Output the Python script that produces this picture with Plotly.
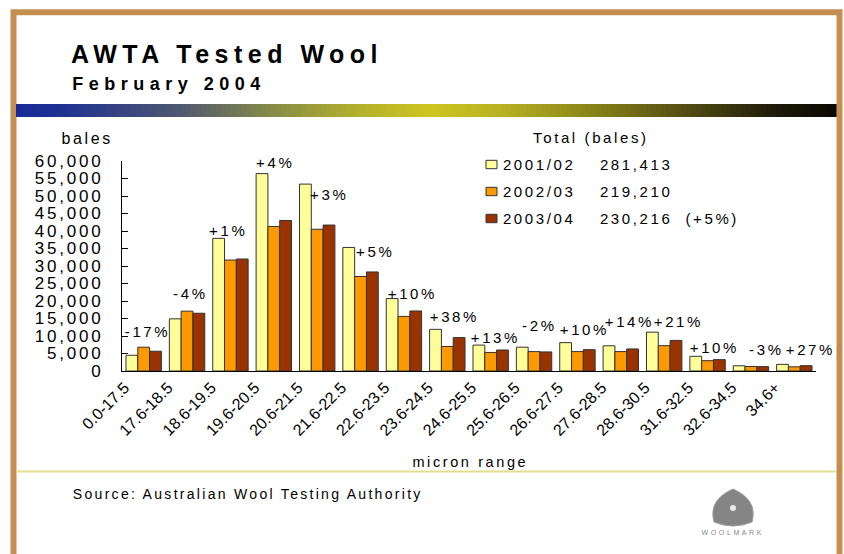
import plotly.graph_objects as go

# ---------------- data ----------------
categories = ["0.0-17.5", "17.6-18.5", "18.6-19.5", "19.6-20.5", "20.6-21.5",
              "21.6-22.5", "22.6-23.5", "23.6-24.5", "24.6-25.5", "25.6-26.5",
              "26.6-27.5", "27.6-28.5", "28.6-30.5", "31.6-32.5", "32.6-34.5", "34.6+"]
bales_2001_02 = [4500, 14900, 37900, 56400, 53400, 35300, 20700, 11900,
                 7400, 6800, 8100, 7200, 11100, 4200, 1500, 1900]
bales_2002_03 = [6800, 17100, 31700, 41300, 40500, 27000, 15600, 7000,
                 5300, 5550, 5550, 5550, 7250, 2950, 1290, 1200]
bales_2003_04 = [5650, 16500, 32000, 43000, 41700, 28300, 17150, 9550,
                 6000, 5450, 6100, 6300, 8750, 3250, 1250, 1520]
pct_change = ["-17%", "-4%", "+1%", "+4%", "+3%", "+5%", "+10%", "+38%",
              "+13%", "-2%", "+10%", "+14%", "+21%", "+10%", "-3%", "+27%"]
seasons = ["2001/02", "2002/03", "2003/04"]
season_totals = ["281,413", "219,210", "230,216"]
total_change = "(+5%)"

# ---------------- styling / layout helpers ----------------
colors = ["#FFFF99", "#FF9900", "#993300"]
FONT = "Liberation Sans, Arial, sans-serif"
W, H = 844, 554
L, R, T, B = 122, 816, 161, 371          # plot area in pixels


def px(x):
    return (x - L) / (R - L)


def py(y):
    return (B - y) / (B - T)


fig = go.Figure()
for name, vals, col in zip(seasons, [bales_2001_02, bales_2002_03, bales_2003_04], colors):
    fig.add_trace(go.Bar(
        x=categories, y=vals, name=name,
        marker=dict(color=col, line=dict(color="#333333", width=1)),
        hoverinfo="x+y+name",
    ))

annotations = []


def txt(text, x, y, size, bold=False, color="black"):
    annotations.append(dict(
        text=f"<b>{text}</b>" if bold else text,
        x=px(x), y=py(y), xref="paper", yref="paper",
        xanchor="center", yanchor="middle", showarrow=False,
        font=dict(family=FONT, size=size, color=color),
    ))


# titles (index 0 and 1 -> wider letter spacing)
txt("AWTA Tested Wool", 227, 54, 25, bold=True)
txt("February 2004", 169, 84, 18, bold=True)

# axis texts
txt("bales", 87, 138, 16)
txt("micron range", 470, 462, 14.5)
txt("Source: Australian Wool Testing Authority", 248, 494, 14)   # index 4

# legend block
txt("Total (bales)", 591, 137.5, 15)
legend_rows_y = [164.5, 191.5, 218.5]
shapes = []
for i, (s, tot) in enumerate(zip(seasons, season_totals)):
    yy = legend_rows_y[i]
    shapes.append(dict(type="rect", xref="paper", yref="paper",
                       x0=px(486), x1=px(497), y0=py(yy - 4.2), y1=py(yy + 4.2),
                       fillcolor=colors[i], line=dict(color="#333333", width=1)))
    txt(s, 539, yy, 15)
    txt(tot, 636, yy, 15)
txt(total_change, 712, legend_rows_y[2], 15)

# percentage change labels (pixel centres)
pct_label_px = [(147, 331), (190, 293), (228, 230), (275, 162), (329, 194),
                (375, 251), (412, 293), (454, 316), (495, 337), (539, 325),
                (584, 329), (629, 321), (678, 321), (714, 347), (766, 349), (810, 349)]
for lab, (lx, ly) in zip(pct_change, pct_label_px):
    txt(lab, lx, ly, 15)

# Woolmark text
txt("WOOLMARK", 733, 532, 7, color="#888888")

# ---------------- decorations ----------------
# tan frame
shapes.append(dict(type="rect", xref="paper", yref="paper",
                   x0=px(13.5), x1=px(839.5), y0=py(12.3), y1=py(620),
                   line=dict(color="#C48E50", width=6), fillcolor="rgba(0,0,0,0)",
                   layer="above"))

# gradient band
stops = [(16, (24, 42, 152)), (60, (31, 48, 147)), (180, (79, 88, 112)),
         (270, (133, 138, 72)), (350, (176, 173, 46)), (430, (205, 197, 32)),
         (500, (184, 178, 36)), (590, (138, 132, 24)), (690, (80, 74, 20)),
         (780, (28, 24, 8)), (836, (10, 8, 4))]


def col_at(x):
    for (x0, c0), (x1, c1) in zip(stops[:-1], stops[1:]):
        if x0 <= x <= x1:
            t = (x - x0) / (x1 - x0)
            return "rgb(%d,%d,%d)" % tuple(round(a + (b - a) * t) for a, b in zip(c0, c1))
    return "rgb(10,8,4)"


n = 164
x_start, x_end = 16, 836
step = (x_end - x_start) / n
for k in range(n):
    a = x_start + k * step
    shapes.append(dict(type="rect", xref="paper", yref="paper",
                       x0=px(a), x1=px(a + step + 0.6), y0=py(117), y1=py(104),
                       fillcolor=col_at(a + step / 2), line=dict(width=0)))

# pale olive rule
shapes.append(dict(type="line", xref="paper", yref="paper",
                   x0=px(16), x1=px(836), y0=py(471.5), y1=py(471.5),
                   line=dict(color="#E2DE8C", width=2)))

# Woolmark logo approximation (rounded triangle)
shapes.append(dict(type="path", xref="paper", yref="paper",
                   path="M {a},{b} Q {c},{d} {e},{f} Q {g},{h} {i},{j} Q {k},{l} {a},{b} Z".format(
                       a=px(733), b=py(489), c=px(758), d=py(500), e=px(752), f=py(522),
                       g=px(733), h=py(530), i=px(714), j=py(522), k=px(708), l=py(500)),
                   fillcolor="#707070", line=dict(color="#8a8a8a", width=1), opacity=0.85))
shapes.append(dict(type="circle", xref="paper", yref="paper",
                   x0=px(730), x1=px(736), y0=py(511), y1=py(505),
                   fillcolor="#e8e8e8", line=dict(width=0)))

fig.update_layout(
    width=W, height=H,
    margin=dict(l=L, r=W - R, t=T, b=H - B, pad=0),
    paper_bgcolor="white", plot_bgcolor="white",
    barmode="group", bargap=0.184, bargroupgap=0,
    showlegend=False,
    font=dict(family=FONT, color="black"),
    annotations=annotations,
    shapes=shapes,
    xaxis=dict(
        showline=True, linecolor="black", linewidth=1.2,
        ticks="", tickangle=-45, tickfont=dict(size=16, family=FONT),
        ticklabelshift=-19,
        showgrid=False, zeroline=False, fixedrange=True,
    ),
    yaxis=dict(
        range=[0, 60000], dtick=5000, tickformat=",",
        showline=True, linecolor="black", linewidth=1,
        ticks="inside", ticklen=6, tickcolor="black", tickwidth=1,
        tickfont=dict(size=17, family=FONT), ticklabelstandoff=14,
        showgrid=False, zeroline=False, fixedrange=True,
    ),
)

post = """
document.body.style.margin = '0';
document.body.style.padding = '0';
var gd = document.getElementById('{plot_id}');
function sp(sel, v){ gd.querySelectorAll(sel).forEach(function(t){ t.style.letterSpacing = v; }); }
function apply(){
  sp('.ytick text', '2.8px');
  sp('.annotation-text', '2.6px');
  sp('.annotation[data-index="0"] text', '5.5px');
  sp('.annotation[data-index="1"] text', '5.5px');
  sp('.annotation[data-index="4"] text', '2.3px');
}
apply();
gd.on('plotly_afterplot', apply);
"""

fig.write_html("out.html", post_script=post, config={"displayModeBar": False})
